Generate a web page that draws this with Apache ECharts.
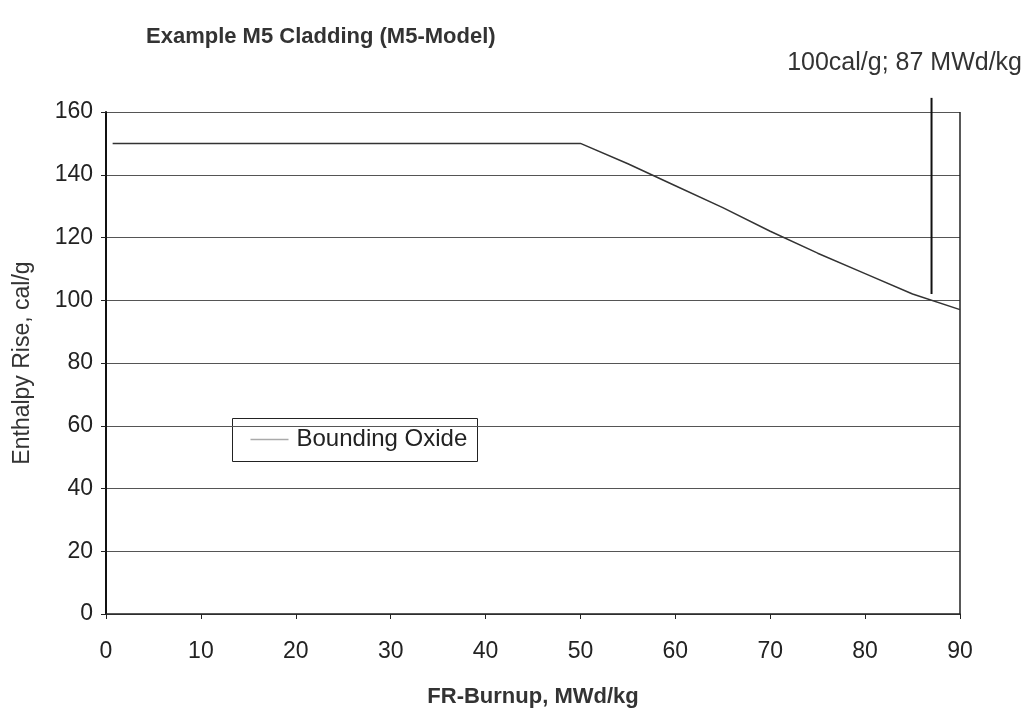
<!DOCTYPE html>
<html>
<head>
<meta charset="utf-8">
<script src="https://cdn.jsdelivr.net/npm/echarts@6/dist/echarts.min.js"></script>
<style>
  html, body { margin: 0; padding: 0; background: #fff; }
  #chart { width: 1033px; height: 712px; }
</style>
</head>
<body>
<div id="chart"></div>
<script>
// burnup (MWd/kg) vs enthalpy rise (cal/g)
var burnup = [0.7, 50, 55, 60, 65, 70, 75, 80, 85, 90];
var enthalpy = [150, 150, 143.5, 136.5, 129.5, 122, 115, 108.5, 102, 97];
// limit marker: 100 cal/g at 87 MWd/kg
var markerX = [87, 87];
var markerY = [164.5, 102];
var xTicks = [0, 10, 20, 30, 40, 50, 60, 70, 80, 90];
var yTicks = [0, 20, 40, 60, 80, 100, 120, 140, 160];
var seriesName = "Bounding Oxide";

var myChart = echarts.init(document.getElementById("chart"));
var font = "Liberation Sans, Arial, sans-serif";

var option = {
  animation: false,
  title: [
    {
      text: "Example M5 Cladding (M5-Model)",
      left: 141,
      top: 21,
      textStyle: { fontFamily: font, fontSize: 22, fontWeight: "bold", color: "#333" }
    },
    {
      text: "100cal/g; 87 MWd/kg",
      right: 6,
      top: 46,
      textStyle: { fontFamily: font, fontSize: 25, fontWeight: "normal", color: "#333" }
    }
  ],
  // legend box drawn by hand so it sits inside the plot like the original
  graphic: [
    {
      type: "group",
      left: 232,
      top: 418,
      children: [
        {
          type: "rect",
          shape: { x: 0, y: 0, width: 245, height: 43 },
          style: { fill: "#fff", stroke: "#222", lineWidth: 1 }
        },
        {
          type: "line",
          shape: { x1: 18, y1: 21, x2: 56, y2: 21 },
          style: { stroke: "#aaa", lineWidth: 1.5 }
        },
        {
          type: "text",
          x: 64,
          y: 21,
          style: {
            text: seriesName,
            fontFamily: font,
            fontSize: 24,
            fill: "#222",
            verticalAlign: "middle"
          }
        }
      ]
    }
  ],
  grid: { left: 106, right: 73, top: 112, bottom: 98, outerBoundsMode: "none", containLabel: false },
  xAxis: {
    type: "value",
    min: 0,
    max: 90,
    interval: 10,
    name: "FR-Burnup, MWd/kg",
    nameLocation: "middle",
    nameGap: 72,
    nameTextStyle: { fontFamily: font, fontSize: 22, fontWeight: "bold", color: "#333" },
    axisLine: { onZero: false, lineStyle: { color: "#222", width: 1.5 } },
    axisTick: { show: true, inside: false, length: 5, lineStyle: { color: "#222" } },
    axisLabel: {
      fontFamily: font, fontSize: 23, color: "#222", margin: 26,
      formatter: function (v) { return xTicks.indexOf(v) >= 0 ? String(v) : ""; }
    },
    splitLine: { show: false }
  },
  yAxis: {
    type: "value",
    min: 0,
    max: 160,
    interval: 20,
    name: "Enthalpy Rise, cal/g",
    nameLocation: "middle",
    nameGap: 72,
    nameTextStyle: { fontFamily: font, fontSize: 23, color: "#333" },
    axisLine: { show: true, lineStyle: { color: "#111", width: 2 } },
    axisTick: { show: true, inside: false, length: 5, lineStyle: { color: "#222" } },
    axisLabel: {
      fontFamily: font, fontSize: 23, color: "#222", margin: 13,
      formatter: function (v) { return yTicks.indexOf(v) >= 0 ? String(v) : ""; }
    },
    splitLine: { show: true, lineStyle: { color: "#555", width: 1 } }
  },
  series: [
    {
      name: seriesName,
      type: "line",
      symbol: "none",
      lineStyle: { color: "#333", width: 1.5 },
      data: burnup.map(function (x, i) { return [x, enthalpy[i]]; }),
      z: 3
    },
    {
      name: "limit",
      type: "line",
      symbol: "none",
      clip: false,
      silent: true,
      lineStyle: { color: "#111", width: 2 },
      data: markerX.map(function (x, i) { return [x, markerY[i]]; }),
      z: 4
    },
    {
      name: "frame",
      type: "line",
      symbol: "none",
      silent: true,
      clip: false,
      lineStyle: { color: "#222", width: 1.5 },
      data: [[90, 0], [90, 160]],
      z: 2
    }
  ]
};

myChart.setOption(option);
</script>
</body>
</html>
